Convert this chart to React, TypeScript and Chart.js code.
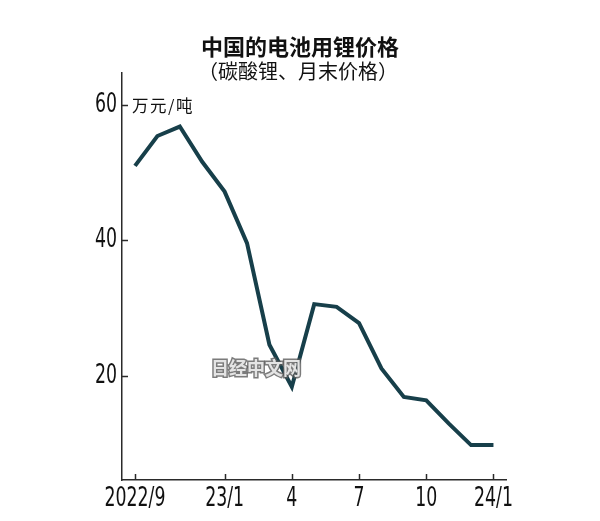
import React, { useEffect, useRef } from "react";
import { Chart, registerables } from "chart.js";

Chart.register(...registerables);

const months = ["2022/9", "10", "11", "12", "23/1", "2", "3", "4", "5", "6", "7", "8", "9", "10", "11", "12", "24/1"];
const prices = [51.0, 55.4, 56.8, 51.6, 47.2, 39.6, 24.6, 18.4, 30.6, 30.2, 27.8, 21.1, 16.9, 16.4, 13.0, 9.8, 9.8];
const shownMonthIdx = [0, 4, 7, 10, 13, 16];
const yTickValues = [20, 40, 60];
const titleText = "中国的电池用锂价格";
const subtitleText = "（碳酸锂、月末价格）";
const unitText = "万元/吨";
const watermarkText = "日经中文网";

const LINE_COLOR = "#173f4a";
const AXIS_COLOR = "#2a2a2a";
const NUM_FONT = "'DejaVu Sans Condensed', 'DejaVu Sans', sans-serif";
const CJK_FONT = "'Noto Sans CJK SC', 'Noto Sans', sans-serif";

export default function App() {
  const ref = useRef<HTMLCanvasElement | null>(null);

  useEffect(() => {
    if (!ref.current) return;

    const decor = {
      id: "decor",
      afterDraw(chart: any) {
        const ctx = chart.ctx;
        const area = chart.chartArea;
        const xs = chart.scales.x;
        const ys = chart.scales.y;
        ctx.save();
        // inward ticks
        ctx.strokeStyle = AXIS_COLOR;
        ctx.lineWidth = 1.5;
        for (const v of yTickValues) {
          const py = Math.round(ys.getPixelForValue(v)) + 0.5;
          ctx.beginPath();
          ctx.moveTo(area.left, py);
          ctx.lineTo(area.left + 6, py);
          ctx.stroke();
        }
        for (const i of shownMonthIdx) {
          const px = Math.round(xs.getPixelForValue(i)) + 0.5;
          ctx.beginPath();
          ctx.moveTo(px, area.bottom);
          ctx.lineTo(px, area.bottom - 6);
          ctx.stroke();
        }
        // condensed numeric tick labels
        ctx.fillStyle = "#111";
        ctx.font = `26px ${NUM_FONT}`;
        const sx = 61 / ctx.measureText("2022/9").width;
        ctx.textBaseline = "middle";
        for (const v of yTickValues) {
          const py = ys.getPixelForValue(v);
          ctx.save();
          ctx.translate(area.left - 5, py);
          ctx.scale(sx, 1);
          ctx.textAlign = "right";
          ctx.fillText(String(v), 0, 0);
          ctx.restore();
        }
        ctx.textBaseline = "top";
        for (const i of shownMonthIdx) {
          const px = xs.getPixelForValue(i);
          ctx.save();
          ctx.translate(px, area.bottom + 6);
          ctx.scale(sx, 1);
          ctx.textAlign = "center";
          ctx.fillText(months[i], 0, 0);
          ctx.restore();
        }
        // titles
        ctx.fillStyle = "#111";
        ctx.textAlign = "center";
        ctx.textBaseline = "middle";
        ctx.font = `bold 22px ${CJK_FONT}`;
        ctx.fillText(titleText, 300, 47);
        ctx.font = `20px ${CJK_FONT}`;
        ctx.fillText(subtitleText, 298, 71);
        // unit
        ctx.textAlign = "left";
        ctx.font = `16.5px ${CJK_FONT}`;
        (ctx as any).letterSpacing = "1.5px";
        ctx.fillText(unitText, area.left + 10, ys.getPixelForValue(60) + 1);
        (ctx as any).letterSpacing = "0px";
        // watermark
        ctx.textAlign = "center";
        ctx.font = `bold 18px ${CJK_FONT}`;
        ctx.lineWidth = 3;
        ctx.strokeStyle = "rgba(90,90,90,0.8)";
        ctx.strokeText(watermarkText, 256, 368);
        ctx.fillStyle = "rgba(235,235,235,0.95)";
        ctx.fillText(watermarkText, 256, 368);
        ctx.restore();
      },
    };

    const chart = new Chart(ref.current, {
      type: "line",
      data: {
        datasets: [
          {
            data: prices.map((v, i) => ({ x: i, y: v })),
            borderColor: LINE_COLOR,
            borderWidth: 4,
            pointRadius: 0,
            tension: 0,
            borderJoinStyle: "miter",
            fill: false,
          },
        ],
      },
      options: {
        responsive: false,
        animation: false,
        layout: { padding: { top: 73, right: 94, left: 0, bottom: 0 } },
        plugins: { legend: { display: false }, tooltip: { enabled: false }, title: { display: false } },
        scales: {
          x: {
            type: "linear",
            min: -0.58,
            max: 16.56,
            grid: { display: false, drawTicks: false },
            border: { display: true, color: AXIS_COLOR, width: 1.5 },
            afterBuildTicks: (s: any) => {
              s.ticks = shownMonthIdx.map((v) => ({ value: v }));
            },
            afterFit: (s: any) => {
              s.height = 41;
            },
            ticks: { display: false },
          },
          y: {
            type: "linear",
            min: 4.65,
            max: 64.7,
            grid: { display: false, drawTicks: false },
            border: { display: true, color: AXIS_COLOR, width: 1.5 },
            afterBuildTicks: (s: any) => {
              s.ticks = yTickValues.map((v) => ({ value: v }));
            },
            afterFit: (s: any) => {
              s.width = 122;
            },
            ticks: { display: false },
          },
        },
      },
      plugins: [decor],
    } as any);

    return () => chart.destroy();
  }, []);

  return (
    <div style={{ position: "absolute", left: 0, top: 0, width: 600, height: 521, background: "#fff" }}>
      <canvas ref={ref} width={600} height={521} style={{ width: 600, height: 521, display: "block" }} />
    </div>
  );
}
